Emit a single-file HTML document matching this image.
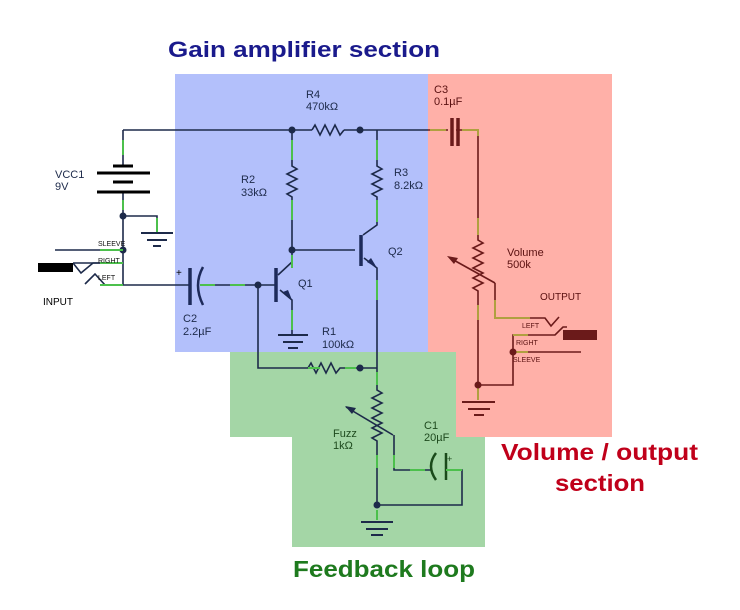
<!DOCTYPE html>
<html><head><meta charset="utf-8"><style>
body{margin:0;background:#fff}
svg{display:block}
text{font-family:"Liberation Sans",sans-serif}
</style></head><body>
<svg width="740" height="610" viewBox="0 0 740 610" xmlns="http://www.w3.org/2000/svg">
<rect x="175" y="74" width="253" height="278" fill="#b3c0fb"/>
<rect x="428" y="74" width="184" height="363" fill="#ffb0a8"/>
<rect x="230" y="352" width="226" height="85" fill="#a4d6a6"/>
<rect x="292" y="437" width="193" height="110" fill="#a4d6a6"/>

<text x="168" y="57" font-size="22" font-weight="bold" fill="#1a1a8c" textLength="272" lengthAdjust="spacingAndGlyphs">Gain amplifier section</text>
<text x="501" y="460" font-size="23" font-weight="bold" fill="#c0001a" textLength="197" lengthAdjust="spacingAndGlyphs">Volume / output</text>
<text x="555" y="491" font-size="23" font-weight="bold" fill="#c0001a" textLength="90" lengthAdjust="spacingAndGlyphs">section</text>
<text x="293" y="577" font-size="23" font-weight="bold" fill="#1e7a1e" textLength="182" lengthAdjust="spacingAndGlyphs">Feedback loop</text>

<g fill="none" stroke="#1d2a4a" stroke-width="1.6">
<path d="M123 130H312M344 130H428"/>
<path d="M312 130l3-5 5 10 5-10 5 10 5-10 5 10 4-5" />
<path d="M123 130V166M123 192V285"/>
<path d="M123 216H157V233"/>
<path d="M55 250H123M73 263H123M100 285H190"/>
<path d="M73 263l8 10 12-10h7M85 284l10-10 10 11h-5"/>
<path d="M292 130V166l5 3-10 5 10 5-10 5 10 5-10 5 5 3V250H355"/>
<path d="M377 130V166l5 3-10 5 10 5-10 5 10 5-10 5 5 3V225l-14 10"/>
<path d="M364 258l13 10V368"/>
<path d="M200 285H276"/>
<path d="M278 275l14-13V250M280 290l12 10V335"/>
<path d="M258 285V368H308l3-5 5 10 5-10 5 10 5-10 5 10 4-5H377"/>
<path d="M377 368V390l5 3-10 5 10 5-10 5 10 5-10 5 10 5-10 5 10 5-10 5 5 3V505H462V470H446"/>
<path d="M394 435V470H432"/>
<path d="M393 435L346 407"/>
</g>
<polygon points="345,406 356,408 352,414" fill="#1d2a4a"/>
<g stroke="#000" stroke-width="3">
<path d="M113 166H133M97 173H150M113 182H133M97 192H150"/>
</g>
<g stroke="#1d2a4a" stroke-width="2">
<path d="M141 233H173M147 240H167M153 246H161"/>
<path d="M278 335H308M283 342H303M288 348H298"/>
<path d="M361 522H393M366 529H388M371 535H383"/>
</g>
<rect x="38" y="263" width="35" height="9" fill="#000"/>
<g stroke="#1d2a5a" stroke-width="3.5" fill="none">
<path d="M190 268V305"/>
<path d="M276 268V302"/>
<path d="M361 235V266"/>
</g>
<path d="M203 267Q193 285 203 305" stroke="#1d2a5a" stroke-width="2.5" fill="none"/>
<path d="M436 453Q426 466 436 480" stroke="#1a4a1a" stroke-width="2.5" fill="none"/>
<path d="M446 453V480" stroke="#1a4a1a" stroke-width="2.5"/>
<polygon points="292,300 283,292 288,290" fill="#1d2a5a"/>
<polygon points="377,268 367,262 371,258" fill="#1d2a5a"/>
<g fill="#1d2a4a">
<circle cx="292" cy="130" r="3.5"/><circle cx="360" cy="130" r="3.5"/>
<circle cx="123" cy="216" r="3.5"/><circle cx="123" cy="250" r="3.5"/>
<circle cx="292" cy="250" r="3.5"/><circle cx="258" cy="285" r="3.5"/>
<circle cx="360" cy="368" r="3.5"/><circle cx="377" cy="505" r="3.5"/>
</g>
<g stroke="#4cc04c" stroke-width="2" fill="none">
<path d="M100 285H123M100 263H123M100 250H123M123 140V155M123 200V210M157 218V232"/>
<path d="M292 140V160M292 200V220M292 255V268M292 310V330M377 140V160M377 200V222M377 280V300M200 285H215M230 285H245"/>
<path d="M377 372V385M377 455V468M394 455V468M410 470H425M446 470H462M377 510V520M320 368H308M345 368H356"/>
</g>

<g fill="none" stroke="#6b1a1a" stroke-width="1.6">
<path d="M428 130H448M456 130H478V240l5 3-10 5 10 5-10 5 10 5-10 5 10 5-10 5 10 5-10 5 5 3V385H513V335H555l8-8h4"/>
<path d="M495 283V318H545l6 8 8-9"/>
<path d="M513 352H581"/>
<path d="M495 283L450 258"/>
</g>
<polygon points="447,256 458,258 454,264" fill="#6b1a1a"/>
<rect x="563" y="330" width="34" height="10" fill="#6b1a1a"/>
<g stroke="#6b1a1a" stroke-width="3.5"><path d="M452 118V146M458 118V146"/></g>
<g stroke="#6b1a1a" stroke-width="2"><path d="M462 402H495M468 409H490M474 415H484"/></g>
<g stroke="#b0a040" stroke-width="2" fill="none"><path d="M430 130H446M462 130H478V136M478 218V235M478 305V320M495 300V318H512M495 318H530M513 335H528M513 352H528M478 385V400"/></g>
<g fill="#6b1a1a"><circle cx="478" cy="385" r="3.5"/><circle cx="513" cy="352" r="3.5"/></g>

<g font-size="11" fill="#1d2a4a">
<text x="306" y="98">R4</text><text x="306" y="110">470kΩ</text>
<text x="241" y="183">R2</text><text x="241" y="196">33kΩ</text>
<text x="394" y="176">R3</text><text x="394" y="189">8.2kΩ</text>
<text x="55" y="178">VCC1</text><text x="55" y="190">9V</text>
<text x="298" y="287">Q1</text><text x="388" y="255">Q2</text>
<text x="183" y="322">C2</text><text x="183" y="335">2.2µF</text>
<text x="322" y="335">R1</text><text x="322" y="348">100kΩ</text>
<text x="43" y="305" font-size="10" fill="#000">INPUT</text>
<text x="176" y="276" font-size="10" fill="#000">+</text>
</g>
<g font-size="7" fill="#111"><text x="98" y="246">SLEEVE</text><text x="98" y="263">RIGHT</text><text x="98" y="280">LEFT</text></g>
<g font-size="11" fill="#1e4a1e"><text x="333" y="437">Fuzz</text><text x="333" y="449">1kΩ</text>
<text x="424" y="429">C1</text><text x="424" y="441">20µF</text><text x="447" y="462" font-size="9">+</text></g>
<g font-size="11" fill="#5a1010"><text x="434" y="93">C3</text><text x="434" y="105">0.1µF</text>
<text x="507" y="256">Volume</text><text x="507" y="268">500k</text>
<text x="540" y="300" font-size="10">OUTPUT</text>
<text x="522" y="328" font-size="7">LEFT</text><text x="516" y="345" font-size="7">RIGHT</text><text x="513" y="362" font-size="7">SLEEVE</text></g>
</svg>
</body></html>
